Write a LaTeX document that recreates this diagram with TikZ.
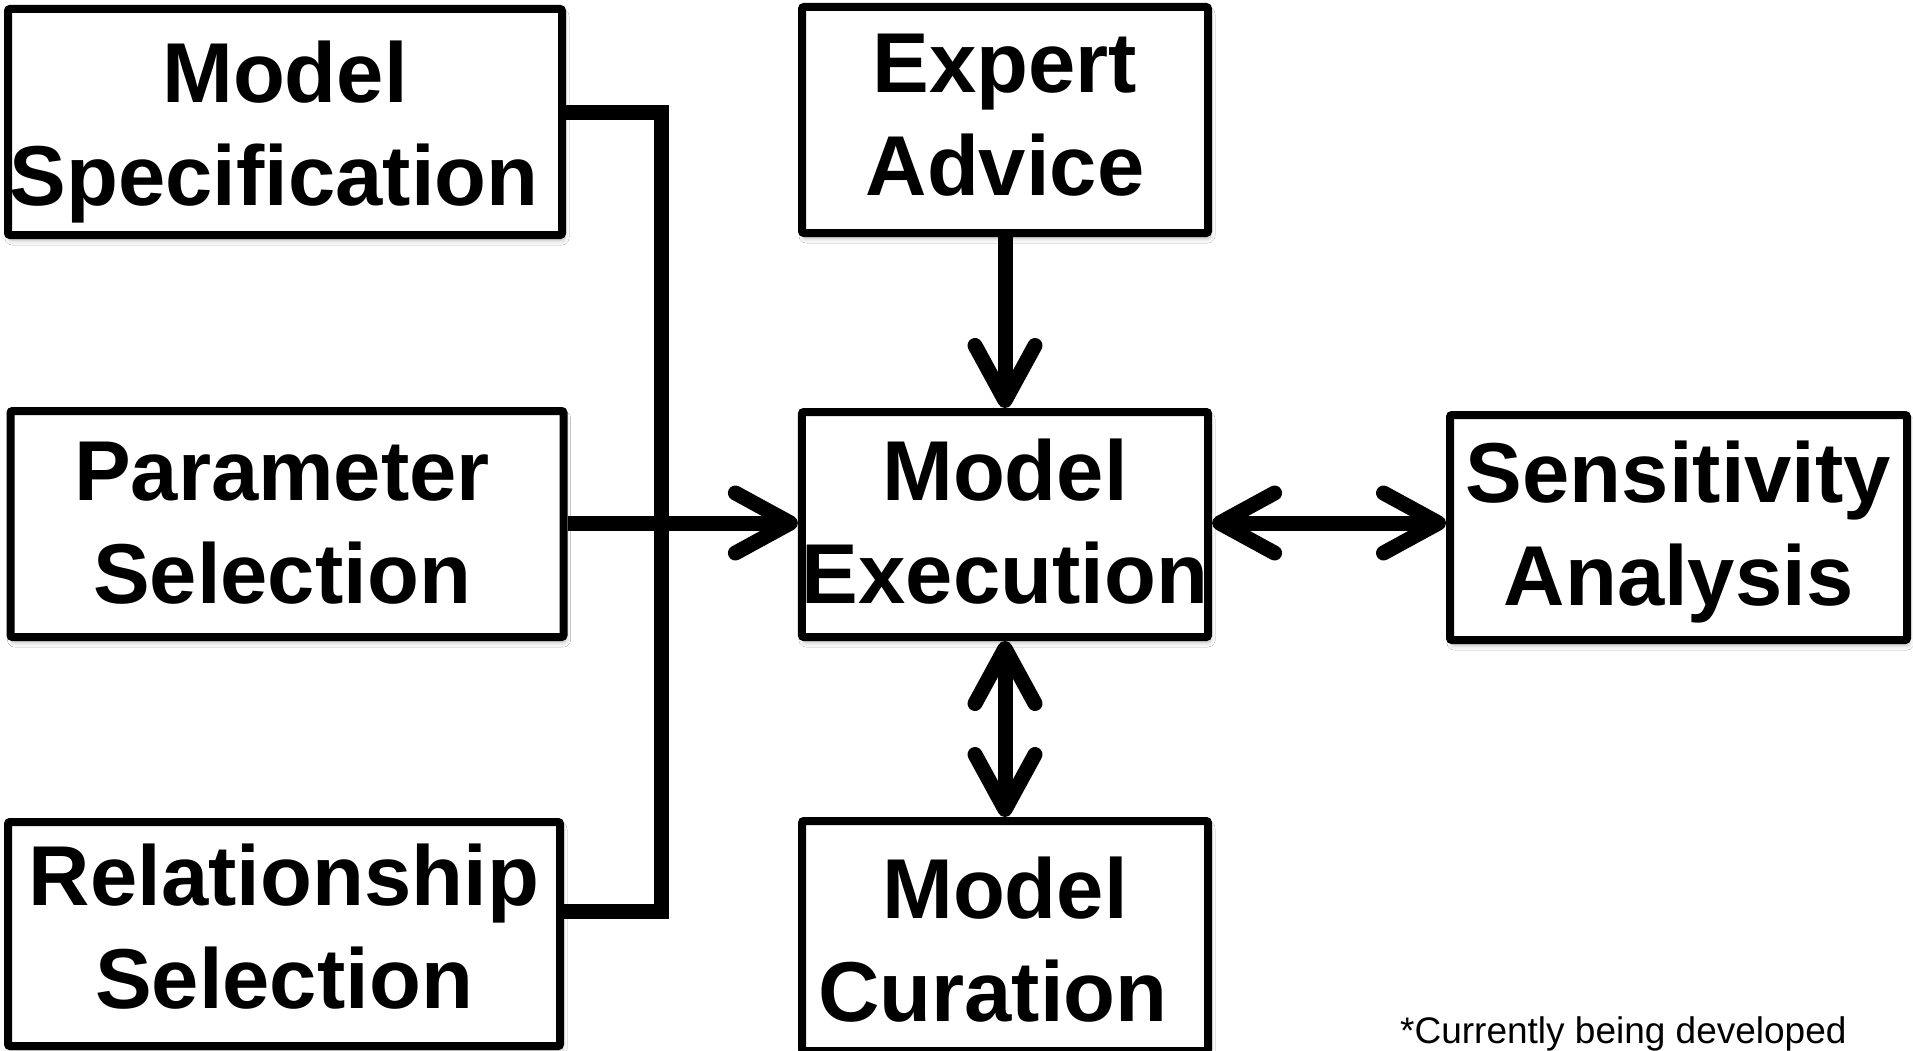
\documentclass[tikz,border=0pt]{standalone}
\usepackage{fontspec}
\setmainfont{Liberation Sans}
\usetikzlibrary{arrows.meta,shadows.blur}

% two centred lines; #1 fixes the room above the first baseline
\newcommand{\twoline}[3]{\rule{0pt}{#1}#2\\#3\rule[-30pt]{0pt}{30pt}}

\tikzset{
  stagebox/.style={
    draw=black, line width=8pt, fill=white, rounded corners=2pt,
    inner sep=0pt, align=center,
    font=\bfseries\fontsize{85}{103}\selectfont,
    blur shadow={shadow xshift=2pt, shadow yshift=-5pt,
                 shadow blur radius=5pt, shadow opacity=30}
  },
  link/.style={line width=15pt, draw=black},
  barb/.tip={Straight Barb[length=55pt, width=60pt, round]},
  chevron/.style={-barb},
  bichevron/.style={barb-barb},
  note/.style={font=\fontsize{37}{44}\selectfont, inner sep=0pt, anchor=base west}
}

\begin{document}
\begin{tikzpicture}[x=1pt, y=-1pt]
  \useasboundingbox[fill=white] (0,0) rectangle (1913,1051);

  % process stages
  \node[stagebox, minimum width=554pt, minimum height=226pt] (spec) at (285,122)
    {\twoline{93pt}{Model}{Specification\hspace*{22pt}}};
  \node[stagebox, minimum width=553pt, minimum height=226pt] (param) at (287,524)
    {\twoline{85pt}{Parameter\hspace*{10pt}}{Selection\hspace*{10pt}}};
  \node[stagebox, minimum width=552pt, minimum height=224pt] (rel) at (284,934)
    {\twoline{75pt}{Relationship}{Selection}};
  \node[stagebox, minimum width=406pt, minimum height=226pt] (expert) at (1005,120)
    {\twoline{79pt}{Expert}{Advice}};
  \node[stagebox, minimum width=406pt, minimum height=225pt] (exec) at (1005,524.5)
    {\twoline{84pt}{Model}{Execution}};
  \node[stagebox, minimum width=406pt, minimum height=220pt] (cur) at (1005,936)
    {\twoline{97pt}{Model}{Curation\hspace*{24pt}}};
  \node[stagebox, minimum width=457pt, minimum height=225pt] (sens) at (1678.5,527.5)
    {\twoline{82pt}{Sensitivity}{Analysis}};

  % bracket joining the three input stages
  \coordinate (bustop) at (661,112.5);
  \coordinate (busbot) at (661,911.5);
  \draw[link, line join=miter] (spec.east |- bustop) -- (bustop) -- (busbot) -- (rel.east |- busbot);

  % flows into and out of model execution
  \draw[link, chevron] (param.east |- 0,523) -- (exec.west |- 0,523);
  \draw[link, chevron] (expert.south) -- (exec.north);
  \draw[link, bichevron] (exec.east |- 0,523) -- (sens.west |- 0,523);
  \draw[link, bichevron] (exec.south) -- (cur.north);

  \node[note] (dev) at (1400,1043) {*Currently being developed};
\end{tikzpicture}
\end{document}
